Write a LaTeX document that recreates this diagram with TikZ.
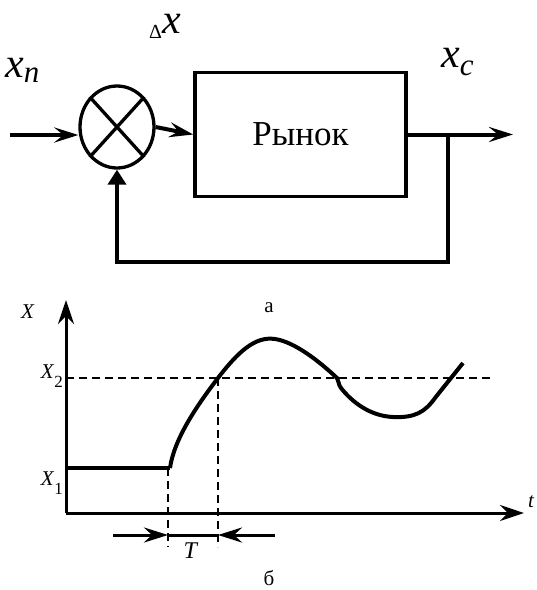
\documentclass[tikz,border=0pt]{standalone}
\usepackage{fontspec}
\setmainfont{Liberation Serif}
\usetikzlibrary{arrows.meta,shapes.geometric}
\definecolor{plotink}{HTML}{000000}
\newcommand{\sigvar}[3]{\textit{#1}\raisebox{#3}{\fontsize{31}{31}\selectfont\textit{#2}}}
\newcommand{\axvar}[1]{\textit{X}\raisebox{-9pt}{\fontsize{17}{17}\selectfont #1}}
\tikzset{
  sumnode/.style={ellipse, draw=plotink, line width=3.3pt, minimum width=74pt,
    minimum height=82pt, inner sep=0pt},
  marketbox/.style={rectangle, draw=plotink, line width=3.5pt, minimum width=211pt,
    minimum height=124pt, font=\fontsize{35}{35}\selectfont, text=plotink},
  siglabel/.style={font=\fontsize{42}{42}\selectfont, text=plotink, inner sep=0pt},
  axlabel/.style={font=\fontsize{21}{21}\selectfont, text=plotink, inner sep=0pt},
  sigflow/.style={-{Stealth[length=24pt,width=15pt,inset=9pt]}, draw=plotink, line width=4pt},
  fbflow/.style={-{Triangle[length=15pt,width=18pt]}, draw=plotink, line width=4pt},
  axisline/.style={-{Stealth[length=24pt,width=16pt,inset=8pt]}, draw=plotink, line width=3pt},
  guideline/.style={draw=plotink, line width=2pt, dash pattern=on 8pt off 5pt},
  plotcurve/.style={draw=plotink, line width=4pt},
  spanflow/.style={-{Stealth[length=24pt,width=15pt,inset=8pt]}, draw=plotink, line width=3pt}
}

\begin{document}
\begin{tikzpicture}[x=1pt,y=-1pt]
  \useasboundingbox (0,0) rectangle (537,590);

  % control loop
  \node[sumnode] (sum) at (117,127) {};
  \draw[plotink, line width=3.3pt] (sum.north west) -- (sum.south east);
  \draw[plotink, line width=3.3pt] (sum.north east) -- (sum.south west);
  \node[marketbox] (market) at (300.5,134.5) {Рынок};

  \coordinate (xin) at (10,135);
  \coordinate (xout) at (513,134.5);
  \coordinate (tap) at (448,134.5);
  \coordinate (fbbase) at (117,262);
  \draw[sigflow] (xin) -- (xin -| sum.west);
  \draw[sigflow] (sum.east) -- (market.west);
  \draw[sigflow] (market.east) -- (xout);
  \draw[fbflow] (tap) |- (fbbase) -- (sum.south);

  \node[siglabel, anchor=base west] (xnlab) at (5,77) {\sigvar{x}{n}{-5pt}};
  \node[siglabel, anchor=base west] (dxlab) at (149,33)
    {\raisebox{-5pt}{\fontsize{20}{20}\selectfont Δ}\textit{x}};
  \node[siglabel, anchor=base west] (xclab) at (441,67) {\sigvar{x}{c}{-8pt}};
  \node[axlabel, anchor=base] (alab) at (269,312) {а};

  % transient response
  \coordinate (orig) at (66,513);
  \coordinate (ytop) at (66,300);
  \coordinate (xend) at (524,513);
  \draw[axisline] (orig) -- (ytop);
  \draw[axisline] (orig) -- (xend);
  \node[axlabel, anchor=base west] (ylab) at (21,318) {\textit{X}};
  \node[axlabel, anchor=base west] (tlab) at (528,507) {\textit{t}};
  \node[axlabel, anchor=base east] (x2lab) at (63,378) {\axvar{2}};
  \node[axlabel, anchor=base east] (x1lab) at (63,485) {\axvar{1}};

  \draw[guideline] (66,378) -- (493,378);
  \draw[guideline] (168,468) -- (168,547);
  \draw[guideline] (218,378) -- (218,547);

  \draw[plotcurve] (66,468) -- (170,468);
  \draw[plotcurve] (170,468) .. controls (174,440) and (195,408) .. (218,378)
    .. controls (238,352) and (255,336) .. (275,339)
    .. controls (295,342) and (320,362) .. (337,378)
    .. controls (339,381) and (338,384) .. (341,388)
    .. controls (352,402) and (370,416) .. (393,417)
    .. controls (415,418) and (425,412) .. (435,398) -- (463,363);

  \coordinate (spanl) at (168,535);
  \coordinate (spanr) at (218,535);
  \draw[spanflow] (113,535) -- (spanl);
  \draw[spanflow] (275,535) -- (spanr);
  \draw[plotink, line width=3pt] (spanl) -- (spanr);
  \node[axlabel, anchor=base, font=\fontsize{24}{24}\selectfont] (Tlab) at (191,558) {\textit{T}};
  \node[axlabel, anchor=base] (blab) at (269,585) {б};
\end{tikzpicture}
\end{document}
